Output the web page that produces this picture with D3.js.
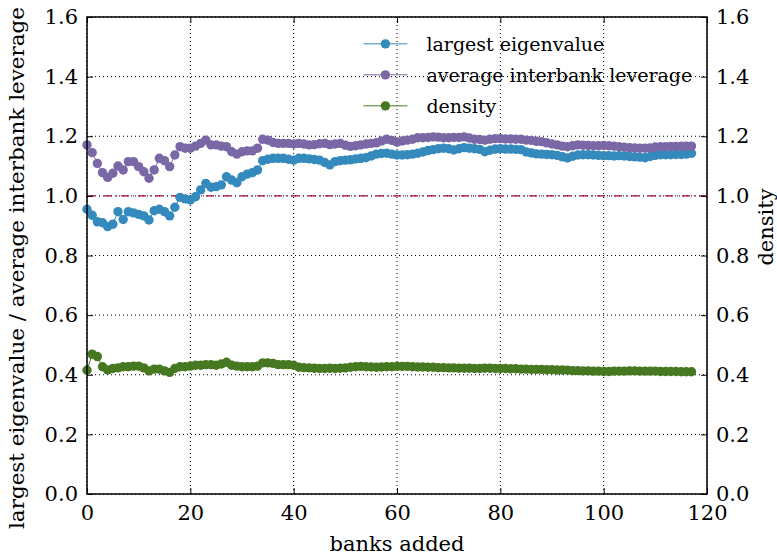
<!DOCTYPE html>
<html>
<head>
<meta charset="utf-8">
<script src="https://cdn.jsdelivr.net/npm/d3@7"></script>
<style>
  body { margin: 0; background: #fff; }
</style>
</head>
<body>
<div id="chart"></div>
<script>
// series values, one per bank added (0..117)
const eigenvalue = [
  0.955, 0.935, 0.913, 0.910, 0.897, 0.905, 0.947, 0.921, 0.947, 0.943,
  0.938, 0.933, 0.919, 0.950, 0.955, 0.947, 0.933, 0.962, 0.995, 0.990,
  0.986, 0.997, 1.020, 1.042, 1.029, 1.031, 1.037, 1.064, 1.053, 1.044,
  1.064, 1.073, 1.078, 1.087, 1.118, 1.123, 1.126, 1.126, 1.126, 1.123,
  1.120, 1.126, 1.126, 1.124, 1.122, 1.120, 1.112, 1.104, 1.115, 1.118,
  1.120, 1.121, 1.124, 1.126, 1.128, 1.134, 1.140, 1.142, 1.143, 1.140,
  1.137, 1.137, 1.138, 1.140, 1.143, 1.147, 1.152, 1.155, 1.158, 1.160,
  1.158, 1.154, 1.158, 1.162, 1.160, 1.158, 1.156, 1.148, 1.153, 1.157,
  1.158, 1.157, 1.157, 1.156, 1.155, 1.147, 1.144, 1.141, 1.140, 1.139,
  1.138, 1.136, 1.131, 1.127, 1.133, 1.137, 1.138, 1.138, 1.137, 1.136,
  1.135, 1.135, 1.134, 1.135, 1.134, 1.132, 1.131, 1.130, 1.128, 1.132,
  1.136, 1.138, 1.138, 1.138, 1.139, 1.139, 1.140, 1.143
];
const leverage = [
  1.171, 1.145, 1.109, 1.078, 1.062, 1.076, 1.100, 1.087, 1.115, 1.115,
  1.098, 1.081, 1.059, 1.087, 1.126, 1.118, 1.098, 1.137, 1.165, 1.160,
  1.160, 1.167, 1.176, 1.187, 1.171, 1.171, 1.167, 1.165, 1.148, 1.140,
  1.148, 1.151, 1.151, 1.160, 1.190, 1.187, 1.179, 1.176, 1.176, 1.176,
  1.174, 1.176, 1.174, 1.171, 1.172, 1.175, 1.176, 1.172, 1.174, 1.176,
  1.170, 1.166, 1.168, 1.171, 1.174, 1.176, 1.178, 1.184, 1.190, 1.186,
  1.180, 1.184, 1.187, 1.190, 1.195, 1.195, 1.196, 1.198, 1.197, 1.195,
  1.195, 1.196, 1.196, 1.198, 1.194, 1.190, 1.189, 1.187, 1.190, 1.192,
  1.192, 1.191, 1.191, 1.190, 1.190, 1.187, 1.186, 1.183, 1.182, 1.178,
  1.174, 1.171, 1.167, 1.165, 1.168, 1.171, 1.170, 1.169, 1.168, 1.168,
  1.169, 1.168, 1.167, 1.165, 1.163, 1.162, 1.161, 1.160, 1.160, 1.161,
  1.164, 1.165, 1.165, 1.166, 1.166, 1.167, 1.167, 1.167
];
const density = [
  0.415, 0.469, 0.461, 0.427, 0.416, 0.421, 0.423, 0.427, 0.427, 0.429,
  0.429, 0.423, 0.413, 0.419, 0.419, 0.413, 0.408, 0.421, 0.427, 0.427,
  0.429, 0.432, 0.432, 0.434, 0.434, 0.432, 0.436, 0.442, 0.432, 0.429,
  0.427, 0.427, 0.427, 0.429, 0.440, 0.440, 0.438, 0.434, 0.434, 0.434,
  0.432, 0.425, 0.424, 0.423, 0.422, 0.421, 0.421, 0.422, 0.421, 0.422,
  0.423, 0.425, 0.427, 0.428, 0.427, 0.426, 0.425, 0.426, 0.427, 0.427,
  0.428, 0.428, 0.428, 0.427, 0.426, 0.426, 0.425, 0.425, 0.424, 0.424,
  0.423, 0.423, 0.422, 0.422, 0.422, 0.421, 0.421, 0.422, 0.422, 0.421,
  0.421, 0.421, 0.420, 0.420, 0.419, 0.419, 0.418, 0.418, 0.418, 0.417,
  0.417, 0.416, 0.416, 0.415, 0.414, 0.414, 0.413, 0.413, 0.412, 0.412,
  0.411, 0.411, 0.412, 0.412, 0.412, 0.413, 0.413, 0.412, 0.412, 0.412,
  0.412, 0.411, 0.411, 0.411, 0.411, 0.410, 0.410, 0.410
];
const xTicks = [0, 20, 40, 60, 80, 100, 120];
const yTicks = [0.0, 0.2, 0.4, 0.6, 0.8, 1.0, 1.2, 1.4, 1.6];
const seriesNames = ['largest eigenvalue', 'average interbank leverage', 'density'];
const threshold = 1.0;

const FONT = '"DejaVu Serif", "Liberation Serif", serif';

const W = 777, H = 559;
const margin = { top: 17, right: 70, bottom: 65, left: 87 };
const width = W - margin.left - margin.right;
const height = H - margin.top - margin.bottom;

const svg = d3.select('#chart')
    .append('svg')
    .attr('width', W)
    .attr('height', H)
    .append('g')
    .attr('transform', `translate(${margin.left},${margin.top})`);

const x = d3.scaleLinear().domain([0, 120]).range([0, width]);
const y = d3.scaleLinear().domain([0, 1.6]).range([height, 0]);
const y2 = d3.scaleLinear().domain([0, 1.6]).range([height, 0]);

// grid
svg.append('g')
    .selectAll('line')
    .data(yTicks)
    .enter()
    .append('line')
    .attr('x1', 0).attr('x2', width)
    .attr('y1', d => y(d)).attr('y2', d => y(d))
    .attr('stroke', '#000')
    .attr('stroke-width', 1)
    .attr('stroke-dasharray', '1,3');
svg.append('g')
    .selectAll('line')
    .data(xTicks)
    .enter()
    .append('line')
    .attr('x1', d => x(d)).attr('x2', d => x(d))
    .attr('y1', 0).attr('y2', height)
    .attr('stroke', '#000')
    .attr('stroke-width', 1)
    .attr('stroke-dasharray', '1,3');

// threshold line at 1.0
svg.append('line')
    .attr('x1', 0).attr('x2', width)
    .attr('y1', y(threshold)).attr('y2', y(threshold))
    .attr('stroke', '#a60628')
    .attr('stroke-width', 1.2)
    .attr('stroke-dasharray', '8,4,1,4');

const series = [
    { name: seriesNames[0], values: eigenvalue, color: '#348abd', scale: y },
    { name: seriesNames[1], values: leverage, color: '#7a68a6', scale: y },
    { name: seriesNames[2], values: density, color: '#467821', scale: y2 }
];

series.forEach(s => {
    const line = d3.line()
        .x((d, i) => x(i))
        .y(d => s.scale(d));
    svg.append('path')
        .datum(s.values)
        .attr('fill', 'none')
        .attr('stroke', s.color)
        .attr('stroke-width', 1)
        .attr('d', line);
    svg.append('g')
        .selectAll('circle')
        .data(s.values)
        .enter()
        .append('circle')
        .attr('cx', (d, i) => x(i))
        .attr('cy', d => s.scale(d))
        .attr('r', 4.7)
        .attr('fill', s.color);
});

// axes
const fmt = d3.format('.1f');
const styleAxis = g => {
    g.attr('font-family', FONT);
    g.select('.domain').remove();
    g.selectAll('.tick line').attr('stroke', '#000').attr('stroke-width', 1);
    g.selectAll('.tick text').attr('fill', '#000').style('font-size', '21px');
};
svg.append('g')
    .attr('transform', `translate(0,${height})`)
    .call(d3.axisBottom(x).tickValues(xTicks).tickSizeInner(-6).tickSizeOuter(0).tickPadding(11))
    .call(styleAxis);
svg.append('g')
    .call(d3.axisTop(x).tickValues(xTicks).tickSizeInner(-6).tickSizeOuter(0).tickFormat(''))
    .call(styleAxis);
svg.append('g')
    .call(d3.axisLeft(y).tickValues(yTicks).tickFormat(fmt).tickSizeInner(-6).tickSizeOuter(0).tickPadding(9))
    .call(styleAxis);
svg.append('g')
    .attr('transform', `translate(${width},0)`)
    .call(d3.axisRight(y2).tickValues(yTicks).tickFormat(fmt).tickSizeInner(-6).tickSizeOuter(0).tickPadding(9))
    .call(styleAxis);

// frame
svg.append('rect')
    .attr('width', width).attr('height', height)
    .attr('fill', 'none')
    .attr('stroke', '#000')
    .attr('stroke-width', 1.5);

// axis labels
const label = svg.append('g')
    .attr('font-family', FONT)
    .attr('font-size', '20px');
label.append('text')
    .attr('x', width / 2)
    .attr('y', height + 57)
    .attr('text-anchor', 'middle')
    .style('font-size', '21px')
    .text('banks added');
label.append('text')
    .attr('transform', 'rotate(-90)')
    .attr('x', -251)
    .attr('y', -63)
    .attr('text-anchor', 'middle')
    .attr('textLength', 522)
    .attr('lengthAdjust', 'spacingAndGlyphs')
    .text('largest eigenvalue / average interbank leverage');
label.append('text')
    .attr('transform', 'rotate(-90)')
    .attr('x', -210)
    .attr('y', width + 66)
    .attr('text-anchor', 'middle')
    .style('font-size', '21px')
    .text('density');

// legend
const legend = svg.append('g')
    .attr('font-family', FONT)
    .attr('font-size', '19px')
    .attr('transform', `translate(${x(53.5)},${y(1.51)})`);
series.forEach((s, i) => {
    const row = legend.append('g').attr('transform', `translate(0,${i * 31})`);
    row.append('line')
        .attr('x1', 0).attr('x2', 44)
        .attr('stroke', s.color).attr('stroke-width', 1);
    row.append('circle')
        .attr('cx', 22).attr('r', 4.7).attr('fill', s.color);
    row.append('text')
        .attr('x', 63).attr('y', 7)
        .text(s.name);
});
</script>
</body>
</html>
